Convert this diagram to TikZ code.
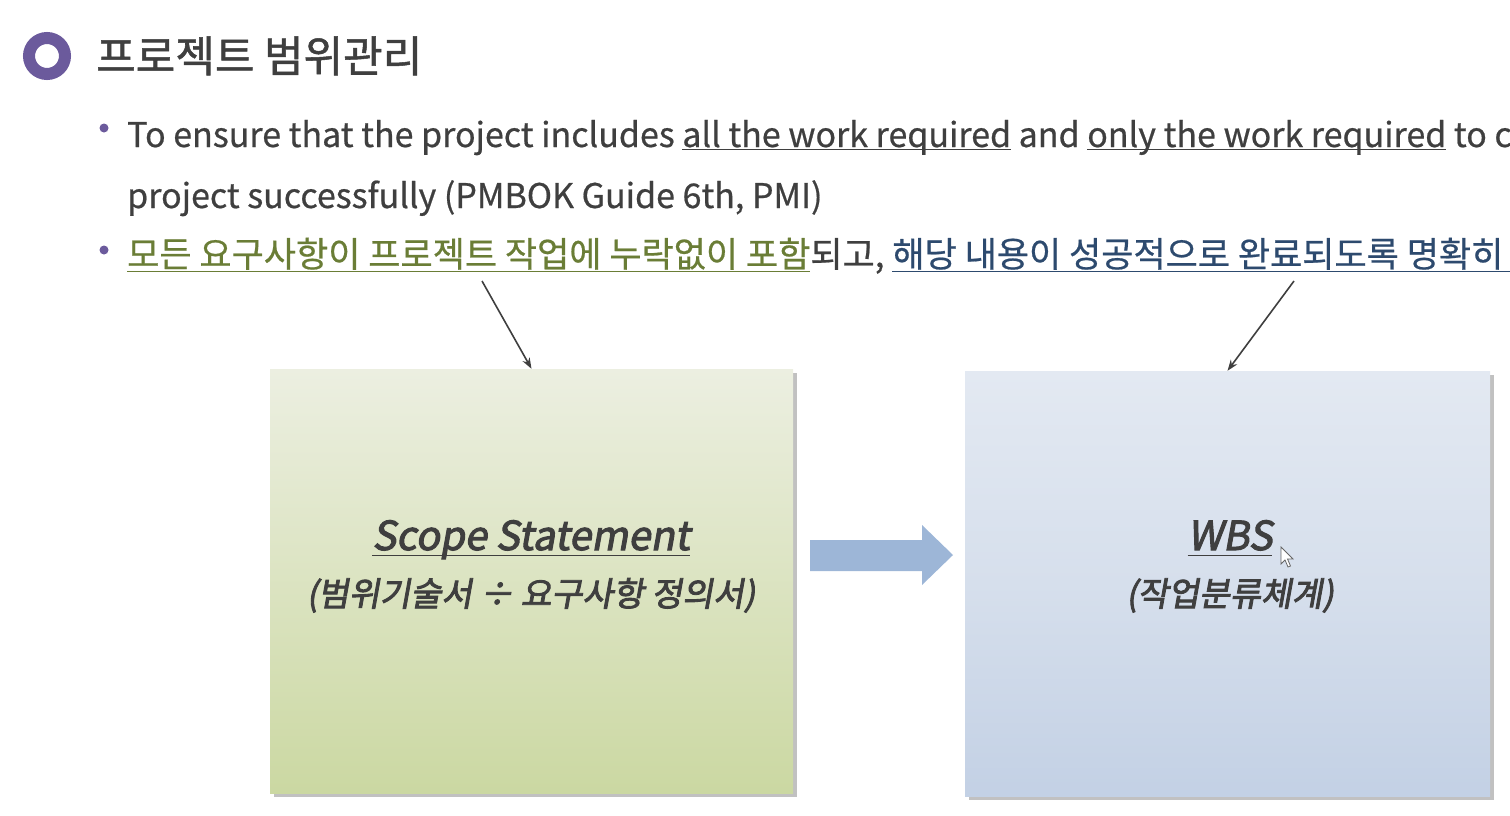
\documentclass[tikz,border=0pt]{standalone}
\usepackage{fontspec}
\setmainfont{Noto Sans CJK KR}
\newfontfamily\krfont{Noto Sans CJK KR}
\newfontfamily\krmed[FakeBold=0.6]{Noto Sans CJK KR}
\newfontfamily\krhead[FakeBold=1.2]{Noto Sans CJK KR}
\newfontfamily\krbold[FakeBold=2.6,FakeSlant=0.18]{Noto Sans CJK KR}
\usetikzlibrary{shadows,arrows.meta}

\definecolor{ringpurple}{HTML}{6B5A9C}
\definecolor{inkgray}{HTML}{3F3F3F}
\definecolor{olive}{HTML}{6A7D36}
\definecolor{navy}{HTML}{2D4A6E}
\definecolor{arrowblue}{HTML}{9DB6D7}
\definecolor{greentop}{HTML}{ECEFE1}
\definecolor{greenbot}{HTML}{CBD8A2}
\definecolor{bluetop}{HTML}{F0F3F8}
\definecolor{bluemid}{HTML}{D6DFEC}
\definecolor{bluedark}{HTML}{B9C9E1}
\definecolor{bluebot}{HTML}{CFDAEA}

\pgfdeclareverticalshading{wbsshade}{100bp}{color(0bp)=(bluebot); color(12bp)=(bluedark); color(50bp)=(bluemid); color(100bp)=(bluetop)}

% underline drawn a fixed distance below the baseline
\newcommand\undr[2][3]{\setbox0\hbox{#2}\rlap{\rule[-#1pt]{\wd0}{1.5pt}}\box0\relax}

\tikzset{
  txt/.style={inner sep=0pt, anchor=base west, text=inkgray},
  bulletdot/.style={circle, fill=ringpurple, inner sep=0pt, minimum size=9pt},
  card/.style={draw=none, inner sep=0pt,
    drop shadow={shadow xshift=4pt, shadow yshift=-4pt, opacity=0.35, fill=black!70}},
  cardtext/.style={inner sep=0pt, anchor=base, text=inkgray},
  pointer/.style={-{Stealth[length=11pt,width=8pt]}, line width=1.6pt, draw=inkgray}
}

\begin{document}
\begin{tikzpicture}[x=1pt, y=-1pt]
\useasboundingbox (0,0) rectangle (1510,816);
\clip (0,0) rectangle (1510,816);

% heading with ring marker
\draw[line width=12pt, draw=ringpurple] (47,56) circle (18);
\node[txt, font=\krhead\fontsize{43}{50}\selectfont] (title) at (96,72) {프로젝트 범위관리};

% bullet points
\node[bulletdot] (b1) at (104,128) {};
\node[txt, font=\krmed\fontsize{34}{40}\selectfont] (l1) at (127,147)
  {To ensure that the project includes \undr{all the work required} and \undr{only the work required} to complete the};
\node[txt, font=\krmed\fontsize{34}{40}\selectfont] (l2) at (127,208)
  {project successfully (PMBOK Guide 6th, PMI)};

\node[bulletdot] (b2) at (104,250) {};
\node[txt, font=\krmed\fontsize{35}{42}\selectfont] (l3) at (127,267)
  {\textcolor{olive}{\undr[5]{모든 요구사항이 프로젝트 작업에 누락없이 포함}}되고, \textcolor{navy}{\undr[5]{해당 내용이 성공적으로 완료되도록 명확히 정의}}};

% the two documents
\node[card, top color=greentop, bottom color=greenbot,
      minimum width=523pt, minimum height=424pt] (scope) at (531.5,581) {};
\node[card, shading=wbsshade,
      minimum width=525pt, minimum height=425pt] (wbs) at (1227.5,583.5) {};

\node[cardtext, font=\krbold\fontsize{40}{48}\selectfont] (scopet) at (531,550) {\undr[6]{Scope Statement}};
\node[cardtext, font=\krbold\fontsize{33.5}{40}\selectfont] (scopes) at (531,606) {(범위기술서 ÷ 요구사항 정의서)};
\node[cardtext, font=\krbold\fontsize{40}{48}\selectfont] (wbst) at (1230,550) {\undr[6]{WBS}};
\node[cardtext, font=\krbold\fontsize{33.5}{40}\selectfont] (wbss) at (1230,606) {(작업분류체계)};

% pointers from the sentence to each document
\coordinate (p1) at (482,281);
\coordinate (p2) at (1294,281);
\draw[pointer] (p1) -- (scope.north);
\draw[pointer] (p2) -- (wbs.north);

% block arrow between the documents
\fill[arrowblue] (810,540) -- (922,540) -- (922,525) -- (953,555) -- (922,585) -- (922,571) -- (810,571) -- cycle;

% mouse pointer
\begin{scope}[shift={(1281,547)}]
\filldraw[fill=white, draw=black!60, line width=0.8pt]
  (0,0) -- (0,17) -- (4,13) -- (7,20) -- (9.5,19) -- (6.5,12) -- (12,12) -- cycle;
\end{scope}
\end{tikzpicture}
\end{document}
